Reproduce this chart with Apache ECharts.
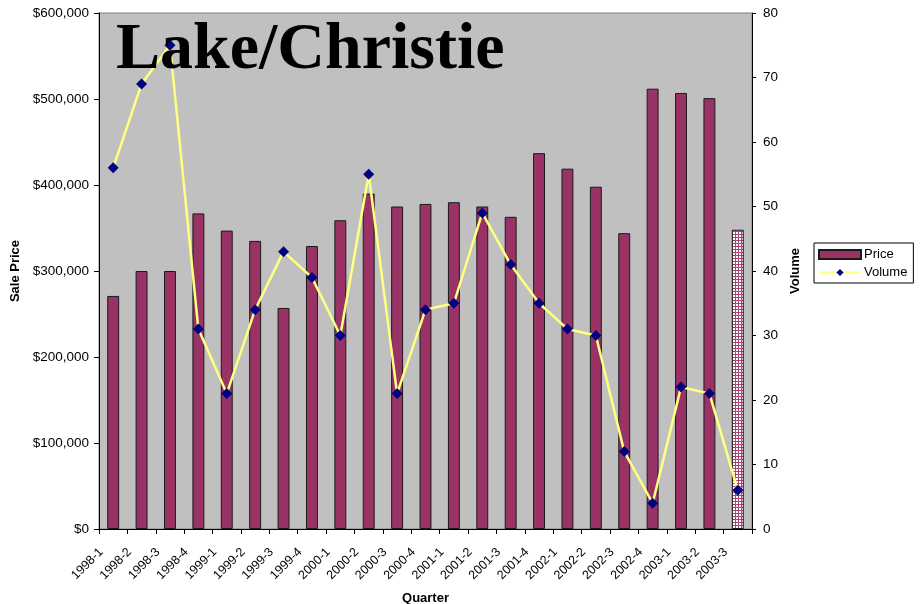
<!DOCTYPE html>
<html>
<head>
<meta charset="utf-8">
<script src="https://cdn.jsdelivr.net/npm/echarts@6/dist/echarts.min.js"></script>
<style>
html,body{margin:0;padding:0;background:#fff;}
#c{width:920px;height:604px;}
</style>
</head>
<body>
<div id="c"></div>
<script>
const quarters = ['1998-1','1998-2','1998-3','1998-4','1999-1','1999-2','1999-3','1999-4','2000-1','2000-2','2000-3','2000-4','2001-1','2001-2','2001-3','2001-4','2002-1','2002-2','2002-3','2002-4','2003-1','2003-2','2003-3'];
const price = [271000,300000,300000,367000,347000,335000,257000,329000,359000,390000,375000,378000,380000,375000,363000,437000,419000,398000,344000,512000,507000,501000,348000];
const volume = [56,69,75,31,21,34,43,39,30,55,21,34,35,49,41,35,31,30,12,4,22,21,6];
const priceTicks = {min:0, max:600000, interval:100000};
const volumeTicks = {min:0, max:80, interval:10};
const titleText = 'Lake/Christie';

// pattern for the last (partial) quarter bar
const pc = document.createElement('canvas');
pc.width = 3; pc.height = 3;
const pctx = pc.getContext('2d');
pctx.fillStyle = '#b0407a';
pctx.fillRect(0,0,3,3);
pctx.fillStyle = '#ffffff';
pctx.fillRect(1,1,2,2);

const barData = price.map((v,i) => i === price.length-1
  ? {value:v, itemStyle:{color:{image:pc, repeat:'repeat'}}}
  : v);

const chart = echarts.init(document.getElementById('c'), null, {renderer:'canvas'});
const axisFont = {fontFamily:'Liberation Sans, Arial, sans-serif', fontSize:13.5, color:'#000'};
chart.setOption({
  animation:false,
  backgroundColor:'#fff',
  title:{
    text:titleText,
    left:111, top:13,
    textStyle:{fontFamily:'Liberation Serif, Times New Roman, serif', fontWeight:'bold', fontSize:66, color:'#000'}
  },
  legend:{
    orient:'vertical', left:814, top:243,
    itemWidth:42, itemHeight:9, itemGap:5,
    padding:[5,6,4,4],
    backgroundColor:'#fff', borderColor:'#000', borderWidth:1, borderRadius:0,
    textStyle:{fontFamily:'Liberation Sans, Arial, sans-serif', fontSize:13, color:'#000', padding:[0,0,0,-2]},
    data:[{name:'Price', icon:'rect'},{name:'Volume'}]
  },
  grid:{left:99, right:168, top:13, bottom:75, outerBoundsMode:'none', containLabel:false,
        show:true, backgroundColor:'#c0c0c0', borderColor:'#808080', borderWidth:1},
  xAxis:[{
    type:'category', data:quarters, boundaryGap:true,
    name:'Quarter', nameLocation:'middle', nameGap:63,
    nameTextStyle:{fontFamily:'Liberation Sans, Arial, sans-serif', fontSize:13, fontWeight:'bold', color:'#000'},
    axisLine:{lineStyle:{color:'#000', width:1}},
    axisTick:{show:true, length:5, lineStyle:{color:'#000'}},
    axisLabel:Object.assign({rotate:45, margin:9, interval:0, padding:[0,17,0,0]}, axisFont, {fontSize:12.5}),
    splitLine:{show:false}
  }],
  yAxis:[{
    type:'value', min:priceTicks.min, max:priceTicks.max, interval:priceTicks.interval,
    name:'Sale Price', nameLocation:'middle', nameGap:74, nameRotate:90,
    nameTextStyle:{fontFamily:'Liberation Sans, Arial, sans-serif', fontSize:13, fontWeight:'bold', color:'#000'},
    axisLine:{show:true, lineStyle:{color:'#000', width:1}},
    axisTick:{show:true, length:5, lineStyle:{color:'#000'}},
    axisLabel:Object.assign({margin:10, formatter:v => '$' + v.toLocaleString('en-US')}, axisFont),
    splitLine:{show:false}
  },{
    type:'value', min:volumeTicks.min, max:volumeTicks.max, interval:volumeTicks.interval, position:'right',
    name:'Volume', nameLocation:'middle', nameGap:27, nameRotate:90,
    nameTextStyle:{fontFamily:'Liberation Sans, Arial, sans-serif', fontSize:13, fontWeight:'bold', color:'#000'},
    axisLine:{show:true, lineStyle:{color:'#000', width:1}},
    axisTick:{show:true, length:4, lineStyle:{color:'#000'}},
    axisLabel:Object.assign({margin:11}, axisFont),
    splitLine:{show:false}
  }],
  series:[{
    name:'Price', type:'bar', xAxisIndex:0, yAxisIndex:0, data:barData,
    barWidth:'42%',
    itemStyle:{color:'#993366', borderColor:'#1a1a1a', borderWidth:1}
  },{
    name:'Volume', type:'line', xAxisIndex:0, yAxisIndex:1, data:volume,
    symbol:'diamond', symbolSize:11,
    lineStyle:{color:'#ffff80', width:2.5},
    itemStyle:{color:'#000080', borderWidth:0}
  }]
});
</script>
</body>
</html>
